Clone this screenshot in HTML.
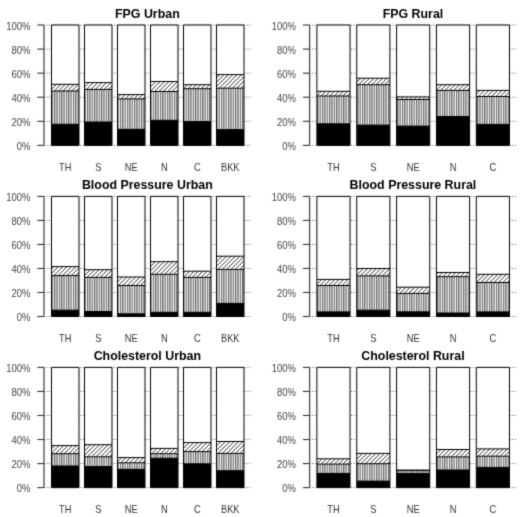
<!DOCTYPE html>
<html><head><meta charset="utf-8"><title>Chart</title>
<style>html,body{margin:0;padding:0;background:#fff;width:520px;height:517px;overflow:hidden}svg{display:block}text{font-family:"Liberation Sans",Arial,sans-serif}.t{font-weight:bold;font-size:12.4px;fill:#000;text-anchor:middle}.y{font-size:9.5px;fill:#444;text-anchor:end}.x{font-size:9.3px;fill:#333;text-anchor:middle}</style></head><body>
<svg width="520" height="517" viewBox="0 0 520 517">
<defs><pattern id="vh" patternUnits="userSpaceOnUse" width="2.35" height="10"><rect width="2.35" height="10" fill="#fff"/><rect x="0" width="1.25" height="10" fill="#666"/></pattern><pattern id="dh" patternUnits="userSpaceOnUse" width="3.1" height="3.1" patternTransform="rotate(45)"><rect width="3.1" height="3.1" fill="#fff"/><rect x="0" width="0.7" height="3.1" fill="#333"/></pattern><filter id="bl" x="0" y="0" width="520" height="517" filterUnits="userSpaceOnUse" color-interpolation-filters="sRGB"><feConvolveMatrix order="3" kernelMatrix="0.01917 0.10012 0.01917 0.10012 0.52283 0.10012 0.01917 0.10012 0.01917" edgeMode="duplicate"/></filter></defs>
<rect width="520" height="517" fill="#fff"/>
<g filter="url(#bl)">
<text class="t" x="147.35" y="17.8">FPG Urban</text>
<line x1="43.8" y1="145.4" x2="251.1" y2="145.4" stroke="#666" stroke-width="1" stroke-dasharray="1 1.6"/>
<line x1="43.8" y1="121.32" x2="251.1" y2="121.32" stroke="#666" stroke-width="1" stroke-dasharray="1 1.6"/>
<line x1="43.8" y1="97.24" x2="251.1" y2="97.24" stroke="#666" stroke-width="1" stroke-dasharray="1 1.6"/>
<line x1="43.8" y1="73.16" x2="251.1" y2="73.16" stroke="#666" stroke-width="1" stroke-dasharray="1 1.6"/>
<line x1="43.8" y1="49.08" x2="251.1" y2="49.08" stroke="#666" stroke-width="1" stroke-dasharray="1 1.6"/>
<line x1="43.8" y1="25" x2="251.1" y2="25" stroke="#666" stroke-width="1" stroke-dasharray="1 1.6"/>
<rect x="51.5" y="25" width="27.5" height="59.3" fill="#fff"/>
<rect x="51.5" y="84.3" width="27.5" height="6.7" fill="url(#dh)"/>
<rect x="51.5" y="91" width="27.5" height="33.3" fill="url(#vh)"/>
<rect x="51.5" y="124.3" width="27.5" height="21.1" fill="#000"/>
<path d="M51.5 145.4V25H79V145.4Z M51.5 84.3H79 M51.5 91H79 M51.5 124.3H79" fill="none" stroke="#000" stroke-width="1"/>
<text class="x" transform="translate(65.25 170.7) scale(1 1.15)">TH</text>
<rect x="84.5" y="25" width="27.5" height="57.6" fill="#fff"/>
<rect x="84.5" y="82.6" width="27.5" height="6.8" fill="url(#dh)"/>
<rect x="84.5" y="89.4" width="27.5" height="32.6" fill="url(#vh)"/>
<rect x="84.5" y="122" width="27.5" height="23.4" fill="#000"/>
<path d="M84.5 145.4V25H112V145.4Z M84.5 82.6H112 M84.5 89.4H112 M84.5 122H112" fill="none" stroke="#000" stroke-width="1"/>
<text class="x" transform="translate(98.25 170.7) scale(1 1.15)">S</text>
<rect x="117.5" y="25" width="27.5" height="69.6" fill="#fff"/>
<rect x="117.5" y="94.6" width="27.5" height="4.3" fill="url(#dh)"/>
<rect x="117.5" y="98.9" width="27.5" height="30.4" fill="url(#vh)"/>
<rect x="117.5" y="129.3" width="27.5" height="16.1" fill="#000"/>
<path d="M117.5 145.4V25H145V145.4Z M117.5 94.6H145 M117.5 98.9H145 M117.5 129.3H145" fill="none" stroke="#000" stroke-width="1"/>
<text class="x" transform="translate(131.25 170.7) scale(1 1.15)">NE</text>
<rect x="150.5" y="25" width="27.5" height="56.5" fill="#fff"/>
<rect x="150.5" y="81.5" width="27.5" height="10" fill="url(#dh)"/>
<rect x="150.5" y="91.5" width="27.5" height="28.8" fill="url(#vh)"/>
<rect x="150.5" y="120.3" width="27.5" height="25.1" fill="#000"/>
<path d="M150.5 145.4V25H178V145.4Z M150.5 81.5H178 M150.5 91.5H178 M150.5 120.3H178" fill="none" stroke="#000" stroke-width="1"/>
<text class="x" transform="translate(164.25 170.7) scale(1 1.15)">N</text>
<rect x="183.5" y="25" width="27.5" height="59.7" fill="#fff"/>
<rect x="183.5" y="84.7" width="27.5" height="4" fill="url(#dh)"/>
<rect x="183.5" y="88.7" width="27.5" height="32.9" fill="url(#vh)"/>
<rect x="183.5" y="121.6" width="27.5" height="23.8" fill="#000"/>
<path d="M183.5 145.4V25H211V145.4Z M183.5 84.7H211 M183.5 88.7H211 M183.5 121.6H211" fill="none" stroke="#000" stroke-width="1"/>
<text class="x" transform="translate(197.25 170.7) scale(1 1.15)">C</text>
<rect x="216.5" y="25" width="27.5" height="49.6" fill="#fff"/>
<rect x="216.5" y="74.6" width="27.5" height="13.6" fill="url(#dh)"/>
<rect x="216.5" y="88.2" width="27.5" height="41.4" fill="url(#vh)"/>
<rect x="216.5" y="129.6" width="27.5" height="15.8" fill="#000"/>
<path d="M216.5 145.4V25H244V145.4Z M216.5 74.6H244 M216.5 88.2H244 M216.5 129.6H244" fill="none" stroke="#000" stroke-width="1"/>
<text class="x" transform="translate(230.25 170.7) scale(1 1.15)">BKK</text>
<line x1="44" y1="25" x2="44" y2="145.4" stroke="#4a4a4a" stroke-width="1.3"/>
<line x1="37.3" y1="145.4" x2="43.8" y2="145.4" stroke="#333" stroke-width="1.1"/>
<text class="y" transform="translate(30.4 150.1) scale(1 1.15)">0%</text>
<line x1="37.3" y1="121.32" x2="43.8" y2="121.32" stroke="#333" stroke-width="1.1"/>
<text class="y" transform="translate(30.4 126.02) scale(1 1.15)">20%</text>
<line x1="37.3" y1="97.24" x2="43.8" y2="97.24" stroke="#333" stroke-width="1.1"/>
<text class="y" transform="translate(30.4 101.94) scale(1 1.15)">40%</text>
<line x1="37.3" y1="73.16" x2="43.8" y2="73.16" stroke="#333" stroke-width="1.1"/>
<text class="y" transform="translate(30.4 77.86) scale(1 1.15)">60%</text>
<line x1="37.3" y1="49.08" x2="43.8" y2="49.08" stroke="#333" stroke-width="1.1"/>
<text class="y" transform="translate(30.4 53.78) scale(1 1.15)">80%</text>
<line x1="37.3" y1="25" x2="43.8" y2="25" stroke="#333" stroke-width="1.1"/>
<text class="y" transform="translate(30.4 29.7) scale(1 1.15)">100%</text>
<text class="t" x="412.95" y="17.8">FPG Rural</text>
<line x1="309.4" y1="145.4" x2="516.7" y2="145.4" stroke="#666" stroke-width="1" stroke-dasharray="1 1.6"/>
<line x1="309.4" y1="121.32" x2="516.7" y2="121.32" stroke="#666" stroke-width="1" stroke-dasharray="1 1.6"/>
<line x1="309.4" y1="97.24" x2="516.7" y2="97.24" stroke="#666" stroke-width="1" stroke-dasharray="1 1.6"/>
<line x1="309.4" y1="73.16" x2="516.7" y2="73.16" stroke="#666" stroke-width="1" stroke-dasharray="1 1.6"/>
<line x1="309.4" y1="49.08" x2="516.7" y2="49.08" stroke="#666" stroke-width="1" stroke-dasharray="1 1.6"/>
<line x1="309.4" y1="25" x2="516.7" y2="25" stroke="#666" stroke-width="1" stroke-dasharray="1 1.6"/>
<rect x="316.9" y="25" width="33.16" height="66.3" fill="#fff"/>
<rect x="316.9" y="91.3" width="33.16" height="4.7" fill="url(#dh)"/>
<rect x="316.9" y="96" width="33.16" height="27.8" fill="url(#vh)"/>
<rect x="316.9" y="123.8" width="33.16" height="21.6" fill="#000"/>
<path d="M316.9 145.4V25H350.06V145.4Z M316.9 91.3H350.06 M316.9 96H350.06 M316.9 123.8H350.06" fill="none" stroke="#000" stroke-width="1"/>
<text class="x" transform="translate(333.48 170.7) scale(1 1.15)">TH</text>
<rect x="356.75" y="25" width="33.16" height="53.2" fill="#fff"/>
<rect x="356.75" y="78.2" width="33.16" height="6.5" fill="url(#dh)"/>
<rect x="356.75" y="84.7" width="33.16" height="40.4" fill="url(#vh)"/>
<rect x="356.75" y="125.1" width="33.16" height="20.3" fill="#000"/>
<path d="M356.75 145.4V25H389.91V145.4Z M356.75 78.2H389.91 M356.75 84.7H389.91 M356.75 125.1H389.91" fill="none" stroke="#000" stroke-width="1"/>
<text class="x" transform="translate(373.33 170.7) scale(1 1.15)">S</text>
<rect x="396.6" y="25" width="33.16" height="71.9" fill="#fff"/>
<rect x="396.6" y="96.9" width="33.16" height="2.6" fill="url(#dh)"/>
<rect x="396.6" y="99.5" width="33.16" height="26.6" fill="url(#vh)"/>
<rect x="396.6" y="126.1" width="33.16" height="19.3" fill="#000"/>
<path d="M396.6 145.4V25H429.76V145.4Z M396.6 96.9H429.76 M396.6 99.5H429.76 M396.6 126.1H429.76" fill="none" stroke="#000" stroke-width="1"/>
<text class="x" transform="translate(413.18 170.7) scale(1 1.15)">NE</text>
<rect x="436.45" y="25" width="33.16" height="59.7" fill="#fff"/>
<rect x="436.45" y="84.7" width="33.16" height="5.7" fill="url(#dh)"/>
<rect x="436.45" y="90.4" width="33.16" height="26.1" fill="url(#vh)"/>
<rect x="436.45" y="116.5" width="33.16" height="28.9" fill="#000"/>
<path d="M436.45 145.4V25H469.61V145.4Z M436.45 84.7H469.61 M436.45 90.4H469.61 M436.45 116.5H469.61" fill="none" stroke="#000" stroke-width="1"/>
<text class="x" transform="translate(453.03 170.7) scale(1 1.15)">N</text>
<rect x="476.3" y="25" width="33.16" height="65.4" fill="#fff"/>
<rect x="476.3" y="90.4" width="33.16" height="6.1" fill="url(#dh)"/>
<rect x="476.3" y="96.5" width="33.16" height="27.9" fill="url(#vh)"/>
<rect x="476.3" y="124.4" width="33.16" height="21" fill="#000"/>
<path d="M476.3 145.4V25H509.46V145.4Z M476.3 90.4H509.46 M476.3 96.5H509.46 M476.3 124.4H509.46" fill="none" stroke="#000" stroke-width="1"/>
<text class="x" transform="translate(492.88 170.7) scale(1 1.15)">C</text>
<line x1="309.6" y1="25" x2="309.6" y2="145.4" stroke="#4a4a4a" stroke-width="1.3"/>
<line x1="302.9" y1="145.4" x2="309.4" y2="145.4" stroke="#333" stroke-width="1.1"/>
<text class="y" transform="translate(296 150.1) scale(1 1.15)">0%</text>
<line x1="302.9" y1="121.32" x2="309.4" y2="121.32" stroke="#333" stroke-width="1.1"/>
<text class="y" transform="translate(296 126.02) scale(1 1.15)">20%</text>
<line x1="302.9" y1="97.24" x2="309.4" y2="97.24" stroke="#333" stroke-width="1.1"/>
<text class="y" transform="translate(296 101.94) scale(1 1.15)">40%</text>
<line x1="302.9" y1="73.16" x2="309.4" y2="73.16" stroke="#333" stroke-width="1.1"/>
<text class="y" transform="translate(296 77.86) scale(1 1.15)">60%</text>
<line x1="302.9" y1="49.08" x2="309.4" y2="49.08" stroke="#333" stroke-width="1.1"/>
<text class="y" transform="translate(296 53.78) scale(1 1.15)">80%</text>
<line x1="302.9" y1="25" x2="309.4" y2="25" stroke="#333" stroke-width="1.1"/>
<text class="y" transform="translate(296 29.7) scale(1 1.15)">100%</text>
<text class="t" x="147.35" y="189.2">Blood Pressure Urban</text>
<line x1="43.8" y1="316.5" x2="251.1" y2="316.5" stroke="#666" stroke-width="1" stroke-dasharray="1 1.6"/>
<line x1="43.8" y1="292.48" x2="251.1" y2="292.48" stroke="#666" stroke-width="1" stroke-dasharray="1 1.6"/>
<line x1="43.8" y1="268.46" x2="251.1" y2="268.46" stroke="#666" stroke-width="1" stroke-dasharray="1 1.6"/>
<line x1="43.8" y1="244.44" x2="251.1" y2="244.44" stroke="#666" stroke-width="1" stroke-dasharray="1 1.6"/>
<line x1="43.8" y1="220.42" x2="251.1" y2="220.42" stroke="#666" stroke-width="1" stroke-dasharray="1 1.6"/>
<line x1="43.8" y1="196.4" x2="251.1" y2="196.4" stroke="#666" stroke-width="1" stroke-dasharray="1 1.6"/>
<rect x="51.5" y="196.4" width="27.5" height="70.2" fill="#fff"/>
<rect x="51.5" y="266.6" width="27.5" height="9" fill="url(#dh)"/>
<rect x="51.5" y="275.6" width="27.5" height="34.6" fill="url(#vh)"/>
<rect x="51.5" y="310.2" width="27.5" height="6.3" fill="#000"/>
<path d="M51.5 316.5V196.4H79V316.5Z M51.5 266.6H79 M51.5 275.6H79 M51.5 310.2H79" fill="none" stroke="#000" stroke-width="1"/>
<text class="x" transform="translate(65.25 341.8) scale(1 1.15)">TH</text>
<rect x="84.5" y="196.4" width="27.5" height="73.3" fill="#fff"/>
<rect x="84.5" y="269.7" width="27.5" height="7.7" fill="url(#dh)"/>
<rect x="84.5" y="277.4" width="27.5" height="34.1" fill="url(#vh)"/>
<rect x="84.5" y="311.5" width="27.5" height="5" fill="#000"/>
<path d="M84.5 316.5V196.4H112V316.5Z M84.5 269.7H112 M84.5 277.4H112 M84.5 311.5H112" fill="none" stroke="#000" stroke-width="1"/>
<text class="x" transform="translate(98.25 341.8) scale(1 1.15)">S</text>
<rect x="117.5" y="196.4" width="27.5" height="80.6" fill="#fff"/>
<rect x="117.5" y="277" width="27.5" height="8.5" fill="url(#dh)"/>
<rect x="117.5" y="285.5" width="27.5" height="28.3" fill="url(#vh)"/>
<rect x="117.5" y="313.8" width="27.5" height="2.7" fill="#000"/>
<path d="M117.5 316.5V196.4H145V316.5Z M117.5 277H145 M117.5 285.5H145 M117.5 313.8H145" fill="none" stroke="#000" stroke-width="1"/>
<text class="x" transform="translate(131.25 341.8) scale(1 1.15)">NE</text>
<rect x="150.5" y="196.4" width="27.5" height="65.3" fill="#fff"/>
<rect x="150.5" y="261.7" width="27.5" height="12.6" fill="url(#dh)"/>
<rect x="150.5" y="274.3" width="27.5" height="38" fill="url(#vh)"/>
<rect x="150.5" y="312.3" width="27.5" height="4.2" fill="#000"/>
<path d="M150.5 316.5V196.4H178V316.5Z M150.5 261.7H178 M150.5 274.3H178 M150.5 312.3H178" fill="none" stroke="#000" stroke-width="1"/>
<text class="x" transform="translate(164.25 341.8) scale(1 1.15)">N</text>
<rect x="183.5" y="196.4" width="27.5" height="74.8" fill="#fff"/>
<rect x="183.5" y="271.2" width="27.5" height="6.2" fill="url(#dh)"/>
<rect x="183.5" y="277.4" width="27.5" height="34.9" fill="url(#vh)"/>
<rect x="183.5" y="312.3" width="27.5" height="4.2" fill="#000"/>
<path d="M183.5 316.5V196.4H211V316.5Z M183.5 271.2H211 M183.5 277.4H211 M183.5 312.3H211" fill="none" stroke="#000" stroke-width="1"/>
<text class="x" transform="translate(197.25 341.8) scale(1 1.15)">C</text>
<rect x="216.5" y="196.4" width="27.5" height="59.8" fill="#fff"/>
<rect x="216.5" y="256.2" width="27.5" height="13.2" fill="url(#dh)"/>
<rect x="216.5" y="269.4" width="27.5" height="34" fill="url(#vh)"/>
<rect x="216.5" y="303.4" width="27.5" height="13.1" fill="#000"/>
<path d="M216.5 316.5V196.4H244V316.5Z M216.5 256.2H244 M216.5 269.4H244 M216.5 303.4H244" fill="none" stroke="#000" stroke-width="1"/>
<text class="x" transform="translate(230.25 341.8) scale(1 1.15)">BKK</text>
<line x1="44" y1="196.4" x2="44" y2="316.5" stroke="#4a4a4a" stroke-width="1.3"/>
<line x1="37.3" y1="316.5" x2="43.8" y2="316.5" stroke="#333" stroke-width="1.1"/>
<text class="y" transform="translate(30.4 321.2) scale(1 1.15)">0%</text>
<line x1="37.3" y1="292.48" x2="43.8" y2="292.48" stroke="#333" stroke-width="1.1"/>
<text class="y" transform="translate(30.4 297.18) scale(1 1.15)">20%</text>
<line x1="37.3" y1="268.46" x2="43.8" y2="268.46" stroke="#333" stroke-width="1.1"/>
<text class="y" transform="translate(30.4 273.16) scale(1 1.15)">40%</text>
<line x1="37.3" y1="244.44" x2="43.8" y2="244.44" stroke="#333" stroke-width="1.1"/>
<text class="y" transform="translate(30.4 249.14) scale(1 1.15)">60%</text>
<line x1="37.3" y1="220.42" x2="43.8" y2="220.42" stroke="#333" stroke-width="1.1"/>
<text class="y" transform="translate(30.4 225.12) scale(1 1.15)">80%</text>
<line x1="37.3" y1="196.4" x2="43.8" y2="196.4" stroke="#333" stroke-width="1.1"/>
<text class="y" transform="translate(30.4 201.1) scale(1 1.15)">100%</text>
<text class="t" x="412.95" y="189.2">Blood Pressure Rural</text>
<line x1="309.4" y1="316.5" x2="516.7" y2="316.5" stroke="#666" stroke-width="1" stroke-dasharray="1 1.6"/>
<line x1="309.4" y1="292.48" x2="516.7" y2="292.48" stroke="#666" stroke-width="1" stroke-dasharray="1 1.6"/>
<line x1="309.4" y1="268.46" x2="516.7" y2="268.46" stroke="#666" stroke-width="1" stroke-dasharray="1 1.6"/>
<line x1="309.4" y1="244.44" x2="516.7" y2="244.44" stroke="#666" stroke-width="1" stroke-dasharray="1 1.6"/>
<line x1="309.4" y1="220.42" x2="516.7" y2="220.42" stroke="#666" stroke-width="1" stroke-dasharray="1 1.6"/>
<line x1="309.4" y1="196.4" x2="516.7" y2="196.4" stroke="#666" stroke-width="1" stroke-dasharray="1 1.6"/>
<rect x="316.9" y="196.4" width="33.16" height="83" fill="#fff"/>
<rect x="316.9" y="279.4" width="33.16" height="6.1" fill="url(#dh)"/>
<rect x="316.9" y="285.5" width="33.16" height="26.4" fill="url(#vh)"/>
<rect x="316.9" y="311.9" width="33.16" height="4.6" fill="#000"/>
<path d="M316.9 316.5V196.4H350.06V316.5Z M316.9 279.4H350.06 M316.9 285.5H350.06 M316.9 311.9H350.06" fill="none" stroke="#000" stroke-width="1"/>
<text class="x" transform="translate(333.48 341.8) scale(1 1.15)">TH</text>
<rect x="356.75" y="196.4" width="33.16" height="72.1" fill="#fff"/>
<rect x="356.75" y="268.5" width="33.16" height="7.4" fill="url(#dh)"/>
<rect x="356.75" y="275.9" width="33.16" height="34.3" fill="url(#vh)"/>
<rect x="356.75" y="310.2" width="33.16" height="6.3" fill="#000"/>
<path d="M356.75 316.5V196.4H389.91V316.5Z M356.75 268.5H389.91 M356.75 275.9H389.91 M356.75 310.2H389.91" fill="none" stroke="#000" stroke-width="1"/>
<text class="x" transform="translate(373.33 341.8) scale(1 1.15)">S</text>
<rect x="396.6" y="196.4" width="33.16" height="90.8" fill="#fff"/>
<rect x="396.6" y="287.2" width="33.16" height="6.2" fill="url(#dh)"/>
<rect x="396.6" y="293.4" width="33.16" height="18.4" fill="url(#vh)"/>
<rect x="396.6" y="311.8" width="33.16" height="4.7" fill="#000"/>
<path d="M396.6 316.5V196.4H429.76V316.5Z M396.6 287.2H429.76 M396.6 293.4H429.76 M396.6 311.8H429.76" fill="none" stroke="#000" stroke-width="1"/>
<text class="x" transform="translate(413.18 341.8) scale(1 1.15)">NE</text>
<rect x="436.45" y="196.4" width="33.16" height="76.1" fill="#fff"/>
<rect x="436.45" y="272.5" width="33.16" height="4.2" fill="url(#dh)"/>
<rect x="436.45" y="276.7" width="33.16" height="36.3" fill="url(#vh)"/>
<rect x="436.45" y="313" width="33.16" height="3.5" fill="#000"/>
<path d="M436.45 316.5V196.4H469.61V316.5Z M436.45 272.5H469.61 M436.45 276.7H469.61 M436.45 313H469.61" fill="none" stroke="#000" stroke-width="1"/>
<text class="x" transform="translate(453.03 341.8) scale(1 1.15)">N</text>
<rect x="476.3" y="196.4" width="33.16" height="77.9" fill="#fff"/>
<rect x="476.3" y="274.3" width="33.16" height="8.2" fill="url(#dh)"/>
<rect x="476.3" y="282.5" width="33.16" height="29.4" fill="url(#vh)"/>
<rect x="476.3" y="311.9" width="33.16" height="4.6" fill="#000"/>
<path d="M476.3 316.5V196.4H509.46V316.5Z M476.3 274.3H509.46 M476.3 282.5H509.46 M476.3 311.9H509.46" fill="none" stroke="#000" stroke-width="1"/>
<text class="x" transform="translate(492.88 341.8) scale(1 1.15)">C</text>
<line x1="309.6" y1="196.4" x2="309.6" y2="316.5" stroke="#4a4a4a" stroke-width="1.3"/>
<line x1="302.9" y1="316.5" x2="309.4" y2="316.5" stroke="#333" stroke-width="1.1"/>
<text class="y" transform="translate(296 321.2) scale(1 1.15)">0%</text>
<line x1="302.9" y1="292.48" x2="309.4" y2="292.48" stroke="#333" stroke-width="1.1"/>
<text class="y" transform="translate(296 297.18) scale(1 1.15)">20%</text>
<line x1="302.9" y1="268.46" x2="309.4" y2="268.46" stroke="#333" stroke-width="1.1"/>
<text class="y" transform="translate(296 273.16) scale(1 1.15)">40%</text>
<line x1="302.9" y1="244.44" x2="309.4" y2="244.44" stroke="#333" stroke-width="1.1"/>
<text class="y" transform="translate(296 249.14) scale(1 1.15)">60%</text>
<line x1="302.9" y1="220.42" x2="309.4" y2="220.42" stroke="#333" stroke-width="1.1"/>
<text class="y" transform="translate(296 225.12) scale(1 1.15)">80%</text>
<line x1="302.9" y1="196.4" x2="309.4" y2="196.4" stroke="#333" stroke-width="1.1"/>
<text class="y" transform="translate(296 201.1) scale(1 1.15)">100%</text>
<text class="t" x="147.35" y="360.2">Cholesterol Urban</text>
<line x1="43.8" y1="487.6" x2="251.1" y2="487.6" stroke="#666" stroke-width="1" stroke-dasharray="1 1.6"/>
<line x1="43.8" y1="463.56" x2="251.1" y2="463.56" stroke="#666" stroke-width="1" stroke-dasharray="1 1.6"/>
<line x1="43.8" y1="439.52" x2="251.1" y2="439.52" stroke="#666" stroke-width="1" stroke-dasharray="1 1.6"/>
<line x1="43.8" y1="415.48" x2="251.1" y2="415.48" stroke="#666" stroke-width="1" stroke-dasharray="1 1.6"/>
<line x1="43.8" y1="391.44" x2="251.1" y2="391.44" stroke="#666" stroke-width="1" stroke-dasharray="1 1.6"/>
<line x1="43.8" y1="367.4" x2="251.1" y2="367.4" stroke="#666" stroke-width="1" stroke-dasharray="1 1.6"/>
<rect x="51.5" y="367.4" width="27.5" height="78.2" fill="#fff"/>
<rect x="51.5" y="445.6" width="27.5" height="8.1" fill="url(#dh)"/>
<rect x="51.5" y="453.7" width="27.5" height="12.3" fill="url(#vh)"/>
<rect x="51.5" y="466" width="27.5" height="21.6" fill="#000"/>
<path d="M51.5 487.6V367.4H79V487.6Z M51.5 445.6H79 M51.5 453.7H79 M51.5 466H79" fill="none" stroke="#000" stroke-width="1"/>
<text class="x" transform="translate(65.25 512.9) scale(1 1.15)">TH</text>
<rect x="84.5" y="367.4" width="27.5" height="77.3" fill="#fff"/>
<rect x="84.5" y="444.7" width="27.5" height="12.1" fill="url(#dh)"/>
<rect x="84.5" y="456.8" width="27.5" height="9.7" fill="url(#vh)"/>
<rect x="84.5" y="466.5" width="27.5" height="21.1" fill="#000"/>
<path d="M84.5 487.6V367.4H112V487.6Z M84.5 444.7H112 M84.5 456.8H112 M84.5 466.5H112" fill="none" stroke="#000" stroke-width="1"/>
<text class="x" transform="translate(98.25 512.9) scale(1 1.15)">S</text>
<rect x="117.5" y="367.4" width="27.5" height="90.2" fill="#fff"/>
<rect x="117.5" y="457.6" width="27.5" height="5.2" fill="url(#dh)"/>
<rect x="117.5" y="462.8" width="27.5" height="6.5" fill="url(#vh)"/>
<rect x="117.5" y="469.3" width="27.5" height="18.3" fill="#000"/>
<path d="M117.5 487.6V367.4H145V487.6Z M117.5 457.6H145 M117.5 462.8H145 M117.5 469.3H145" fill="none" stroke="#000" stroke-width="1"/>
<text class="x" transform="translate(131.25 512.9) scale(1 1.15)">NE</text>
<rect x="150.5" y="367.4" width="27.5" height="81" fill="#fff"/>
<rect x="150.5" y="448.4" width="27.5" height="5.3" fill="url(#dh)"/>
<rect x="150.5" y="453.7" width="27.5" height="4.5" fill="url(#vh)"/>
<rect x="150.5" y="458.2" width="27.5" height="29.4" fill="#000"/>
<path d="M150.5 487.6V367.4H178V487.6Z M150.5 448.4H178 M150.5 453.7H178 M150.5 458.2H178" fill="none" stroke="#000" stroke-width="1"/>
<text class="x" transform="translate(164.25 512.9) scale(1 1.15)">N</text>
<rect x="183.5" y="367.4" width="27.5" height="75.2" fill="#fff"/>
<rect x="183.5" y="442.6" width="27.5" height="9" fill="url(#dh)"/>
<rect x="183.5" y="451.6" width="27.5" height="12.2" fill="url(#vh)"/>
<rect x="183.5" y="463.8" width="27.5" height="23.8" fill="#000"/>
<path d="M183.5 487.6V367.4H211V487.6Z M183.5 442.6H211 M183.5 451.6H211 M183.5 463.8H211" fill="none" stroke="#000" stroke-width="1"/>
<text class="x" transform="translate(197.25 512.9) scale(1 1.15)">C</text>
<rect x="216.5" y="367.4" width="27.5" height="74.1" fill="#fff"/>
<rect x="216.5" y="441.5" width="27.5" height="11.9" fill="url(#dh)"/>
<rect x="216.5" y="453.4" width="27.5" height="17.3" fill="url(#vh)"/>
<rect x="216.5" y="470.7" width="27.5" height="16.9" fill="#000"/>
<path d="M216.5 487.6V367.4H244V487.6Z M216.5 441.5H244 M216.5 453.4H244 M216.5 470.7H244" fill="none" stroke="#000" stroke-width="1"/>
<text class="x" transform="translate(230.25 512.9) scale(1 1.15)">BKK</text>
<line x1="44" y1="367.4" x2="44" y2="487.6" stroke="#4a4a4a" stroke-width="1.3"/>
<line x1="37.3" y1="487.6" x2="43.8" y2="487.6" stroke="#333" stroke-width="1.1"/>
<text class="y" transform="translate(30.4 492.3) scale(1 1.15)">0%</text>
<line x1="37.3" y1="463.56" x2="43.8" y2="463.56" stroke="#333" stroke-width="1.1"/>
<text class="y" transform="translate(30.4 468.26) scale(1 1.15)">20%</text>
<line x1="37.3" y1="439.52" x2="43.8" y2="439.52" stroke="#333" stroke-width="1.1"/>
<text class="y" transform="translate(30.4 444.22) scale(1 1.15)">40%</text>
<line x1="37.3" y1="415.48" x2="43.8" y2="415.48" stroke="#333" stroke-width="1.1"/>
<text class="y" transform="translate(30.4 420.18) scale(1 1.15)">60%</text>
<line x1="37.3" y1="391.44" x2="43.8" y2="391.44" stroke="#333" stroke-width="1.1"/>
<text class="y" transform="translate(30.4 396.14) scale(1 1.15)">80%</text>
<line x1="37.3" y1="367.4" x2="43.8" y2="367.4" stroke="#333" stroke-width="1.1"/>
<text class="y" transform="translate(30.4 372.1) scale(1 1.15)">100%</text>
<text class="t" x="412.95" y="360.2">Cholesterol Rural</text>
<line x1="309.4" y1="487.6" x2="516.7" y2="487.6" stroke="#666" stroke-width="1" stroke-dasharray="1 1.6"/>
<line x1="309.4" y1="463.56" x2="516.7" y2="463.56" stroke="#666" stroke-width="1" stroke-dasharray="1 1.6"/>
<line x1="309.4" y1="439.52" x2="516.7" y2="439.52" stroke="#666" stroke-width="1" stroke-dasharray="1 1.6"/>
<line x1="309.4" y1="415.48" x2="516.7" y2="415.48" stroke="#666" stroke-width="1" stroke-dasharray="1 1.6"/>
<line x1="309.4" y1="391.44" x2="516.7" y2="391.44" stroke="#666" stroke-width="1" stroke-dasharray="1 1.6"/>
<line x1="309.4" y1="367.4" x2="516.7" y2="367.4" stroke="#666" stroke-width="1" stroke-dasharray="1 1.6"/>
<rect x="316.9" y="367.4" width="33.16" height="91.4" fill="#fff"/>
<rect x="316.9" y="458.8" width="33.16" height="5.3" fill="url(#dh)"/>
<rect x="316.9" y="464.1" width="33.16" height="9.3" fill="url(#vh)"/>
<rect x="316.9" y="473.4" width="33.16" height="14.2" fill="#000"/>
<path d="M316.9 487.6V367.4H350.06V487.6Z M316.9 458.8H350.06 M316.9 464.1H350.06 M316.9 473.4H350.06" fill="none" stroke="#000" stroke-width="1"/>
<text class="x" transform="translate(333.48 512.9) scale(1 1.15)">TH</text>
<rect x="356.75" y="367.4" width="33.16" height="86" fill="#fff"/>
<rect x="356.75" y="453.4" width="33.16" height="10.3" fill="url(#dh)"/>
<rect x="356.75" y="463.7" width="33.16" height="17.4" fill="url(#vh)"/>
<rect x="356.75" y="481.1" width="33.16" height="6.5" fill="#000"/>
<path d="M356.75 487.6V367.4H389.91V487.6Z M356.75 453.4H389.91 M356.75 463.7H389.91 M356.75 481.1H389.91" fill="none" stroke="#000" stroke-width="1"/>
<text class="x" transform="translate(373.33 512.9) scale(1 1.15)">S</text>
<rect x="396.6" y="367.4" width="33.16" height="102.7" fill="#fff"/>
<rect x="396.6" y="470.1" width="33.16" height="0.5" fill="url(#dh)"/>
<rect x="396.6" y="470.6" width="33.16" height="2.8" fill="url(#vh)"/>
<rect x="396.6" y="473.4" width="33.16" height="14.2" fill="#000"/>
<path d="M396.6 487.6V367.4H429.76V487.6Z M396.6 470.1H429.76 M396.6 470.6H429.76 M396.6 473.4H429.76" fill="none" stroke="#000" stroke-width="1"/>
<text class="x" transform="translate(413.18 512.9) scale(1 1.15)">NE</text>
<rect x="436.45" y="367.4" width="33.16" height="82.1" fill="#fff"/>
<rect x="436.45" y="449.5" width="33.16" height="7.4" fill="url(#dh)"/>
<rect x="436.45" y="456.9" width="33.16" height="13.1" fill="url(#vh)"/>
<rect x="436.45" y="470" width="33.16" height="17.6" fill="#000"/>
<path d="M436.45 487.6V367.4H469.61V487.6Z M436.45 449.5H469.61 M436.45 456.9H469.61 M436.45 470H469.61" fill="none" stroke="#000" stroke-width="1"/>
<text class="x" transform="translate(453.03 512.9) scale(1 1.15)">N</text>
<rect x="476.3" y="367.4" width="33.16" height="81.5" fill="#fff"/>
<rect x="476.3" y="448.9" width="33.16" height="7.3" fill="url(#dh)"/>
<rect x="476.3" y="456.2" width="33.16" height="11.2" fill="url(#vh)"/>
<rect x="476.3" y="467.4" width="33.16" height="20.2" fill="#000"/>
<path d="M476.3 487.6V367.4H509.46V487.6Z M476.3 448.9H509.46 M476.3 456.2H509.46 M476.3 467.4H509.46" fill="none" stroke="#000" stroke-width="1"/>
<text class="x" transform="translate(492.88 512.9) scale(1 1.15)">C</text>
<line x1="309.6" y1="367.4" x2="309.6" y2="487.6" stroke="#4a4a4a" stroke-width="1.3"/>
<line x1="302.9" y1="487.6" x2="309.4" y2="487.6" stroke="#333" stroke-width="1.1"/>
<text class="y" transform="translate(296 492.3) scale(1 1.15)">0%</text>
<line x1="302.9" y1="463.56" x2="309.4" y2="463.56" stroke="#333" stroke-width="1.1"/>
<text class="y" transform="translate(296 468.26) scale(1 1.15)">20%</text>
<line x1="302.9" y1="439.52" x2="309.4" y2="439.52" stroke="#333" stroke-width="1.1"/>
<text class="y" transform="translate(296 444.22) scale(1 1.15)">40%</text>
<line x1="302.9" y1="415.48" x2="309.4" y2="415.48" stroke="#333" stroke-width="1.1"/>
<text class="y" transform="translate(296 420.18) scale(1 1.15)">60%</text>
<line x1="302.9" y1="391.44" x2="309.4" y2="391.44" stroke="#333" stroke-width="1.1"/>
<text class="y" transform="translate(296 396.14) scale(1 1.15)">80%</text>
<line x1="302.9" y1="367.4" x2="309.4" y2="367.4" stroke="#333" stroke-width="1.1"/>
<text class="y" transform="translate(296 372.1) scale(1 1.15)">100%</text>
</g></svg></body></html>
